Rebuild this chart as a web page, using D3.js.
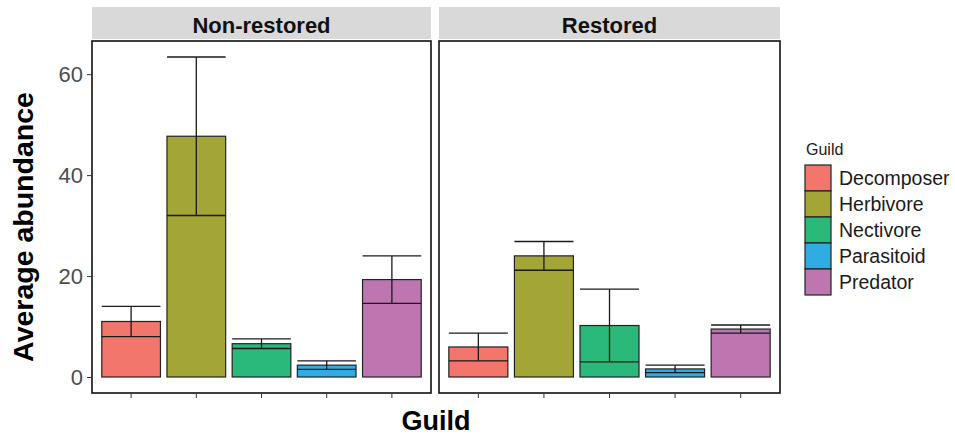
<!DOCTYPE html>
<html>
<head>
<meta charset="utf-8">
<script src="https://cdn.jsdelivr.net/npm/d3@7"></script>
<style>
  body { margin: 0; background: #fff; }
  svg { display: block; font-family: "Liberation Sans", Arial, sans-serif; }
</style>
</head>
<body>
<div class="chart"></div>
<script>
const width = 955,
    height = 435;

// data
const guilds = ["Decomposer", "Herbivore", "Nectivore", "Parasitoid", "Predator"];
const panels = ["Non-restored", "Restored"];
const meanNonRestored = [11.0, 47.7, 6.6, 2.35, 19.3];
const seNonRestored = [3.0, 15.7, 0.95, 0.85, 4.7];
const meanRestored = [5.95, 24.0, 10.2, 1.6, 9.5];
const seRestored = [2.75, 2.85, 7.2, 0.75, 0.8];
const yTicks = [0, 20, 40, 60];
const colors = ["#F2766B", "#A3A537", "#2BB87B", "#31ACE3", "#BD76B0"];

const panelTop = 41, panelBottom = 393;
const panelX = [[92, 431], [439, 780]];

const rows = [];
guilds.forEach((g, i) => {
    rows.push({ panel: panels[0], guild: g, mean: meanNonRestored[i], se: seNonRestored[i] });
    rows.push({ panel: panels[1], guild: g, mean: meanRestored[i], se: seRestored[i] });
});

const yMax = d3.max(rows, d => d.mean + d.se);
const pad = yMax * 0.05;
const y = d3.scaleLinear()
    .domain([-pad, yMax + pad])
    .range([panelBottom, panelTop]);

const color = d3.scaleOrdinal().domain(guilds).range(colors);

const svg = d3.select(".chart")
    .append("svg")
    .attr("width", width)
    .attr("height", height);

panels.forEach((p, pi) => {
    const [x0, x1] = panelX[pi];
    const x = d3.scaleBand()
        .domain(guilds)
        .range([x0, x1])
        .paddingInner(0.1)
        .paddingOuter(0.15);

    // strip
    svg.append("rect")
        .attr("x", x0)
        .attr("y", 7)
        .attr("width", x1 - x0)
        .attr("height", 32)
        .attr("fill", "#d9d9d9");
    svg.append("text")
        .attr("x", (x0 + x1) / 2)
        .attr("y", 33)
        .attr("text-anchor", "middle")
        .attr("font-size", 22)
        .attr("font-weight", "bold")
        .attr("fill", "#111")
        .text(p);

    const data = rows.filter(d => d.panel === p);
    const g = svg.append("g");

    g.selectAll("rect.bar")
        .data(data)
        .join("rect")
        .attr("class", "bar")
        .attr("x", d => x(d.guild))
        .attr("y", d => y(d.mean))
        .attr("width", x.bandwidth())
        .attr("height", d => y(0) - y(d.mean))
        .attr("fill", d => color(d.guild))
        .attr("stroke", "#222")
        .attr("stroke-width", 1.2);

    // error bars
    const eb = g.selectAll("g.err")
        .data(data)
        .join("g")
        .attr("class", "err")
        .attr("stroke", "#1a1a1a")
        .attr("stroke-width", 1.3);
    eb.append("line")
        .attr("x1", d => x(d.guild) + x.bandwidth() / 2)
        .attr("x2", d => x(d.guild) + x.bandwidth() / 2)
        .attr("y1", d => y(d.mean - d.se))
        .attr("y2", d => y(d.mean + d.se));
    eb.append("line")
        .attr("x1", d => x(d.guild))
        .attr("x2", d => x(d.guild) + x.bandwidth())
        .attr("y1", d => y(d.mean + d.se))
        .attr("y2", d => y(d.mean + d.se));
    eb.append("line")
        .attr("x1", d => x(d.guild))
        .attr("x2", d => x(d.guild) + x.bandwidth())
        .attr("y1", d => y(d.mean - d.se))
        .attr("y2", d => y(d.mean - d.se));

    // panel border
    svg.append("rect")
        .attr("x", x0)
        .attr("y", panelTop)
        .attr("width", x1 - x0)
        .attr("height", panelBottom - panelTop)
        .attr("fill", "none")
        .attr("stroke", "#111")
        .attr("stroke-width", 1.6);

    // x ticks, labels blank
    const xAxis = d3.axisBottom(x).tickSize(5).tickFormat("");
    svg.append("g")
        .attr("transform", `translate(0, ${panelBottom})`)
        .call(xAxis)
        .call(a => a.select(".domain").remove())
        .call(a => a.selectAll(".tick line").attr("stroke", "#333"));
});

// y axis
const yAxis = d3.axisLeft(y).tickValues(yTicks).tickSize(5).tickPadding(4);
svg.append("g")
    .attr("transform", `translate(${panelX[0][0]}, 0)`)
    .call(yAxis)
    .call(a => a.select(".domain").remove())
    .call(a => a.selectAll(".tick line").attr("stroke", "#333"))
    .call(a => a.selectAll(".tick text")
        .attr("font-size", 22)
        .attr("font-family", "Liberation Sans, Arial, sans-serif")
        .attr("fill", "#4d4d4d"));

// axis titles
svg.append("text")
    .attr("transform", `translate(33, ${227}) rotate(-90)`)
    .attr("text-anchor", "middle")
    .attr("font-size", 28.5)
    .attr("font-weight", "bold")
    .attr("fill", "#000")
    .text("Average abundance");

svg.append("text")
    .attr("x", (panelX[0][0] + panelX[1][1]) / 2)
    .attr("y", 430)
    .attr("text-anchor", "middle")
    .attr("font-size", 27)
    .attr("font-weight", "bold")
    .attr("fill", "#000")
    .text("Guild");

// legend
svg.append("text")
    .attr("x", 806)
    .attr("y", 155)
    .attr("font-size", 16)
    .attr("fill", "#1a1a1a")
    .text("Guild");

svg.selectAll("rect.key")
    .data(guilds)
    .join("rect")
    .attr("class", "key")
    .attr("x", 805)
    .attr("y", (d, i) => 165 + i * 26)
    .attr("width", 26)
    .attr("height", 26)
    .attr("fill", d => color(d))
    .attr("stroke", "#222")
    .attr("stroke-width", 1.2);

svg.selectAll("text.key")
    .data(guilds)
    .join("text")
    .attr("class", "key")
    .attr("x", 839)
    .attr("y", (d, i) => 165 + i * 26 + 20)
    .attr("font-size", 19.5)
    .attr("fill", "#1a1a1a")
    .text(d => d);
</script>
</body>
</html>
